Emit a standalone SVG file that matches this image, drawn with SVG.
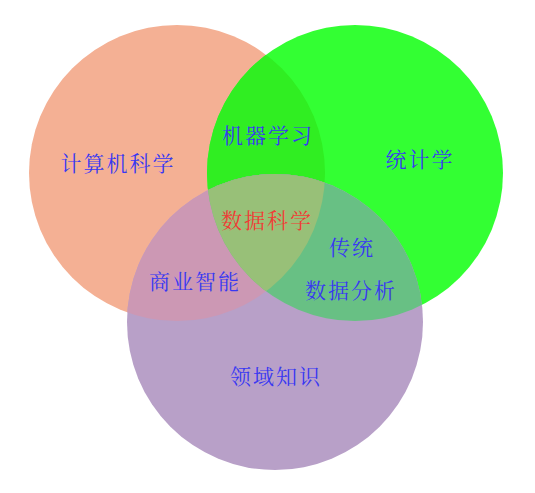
<svg xmlns="http://www.w3.org/2000/svg" width="535" height="493" viewBox="0 0 535 493">
<defs>
<clipPath id="cL"><circle cx="177" cy="173" r="148"/></clipPath>
<clipPath id="cG"><circle cx="355" cy="173" r="148"/></clipPath>
</defs>
<style>
text{font-family:"Noto Serif CJK SC","Noto Sans CJK SC",serif;font-size:21px;text-anchor:middle;dominant-baseline:central;letter-spacing:2px}
.b{fill:#3838f2}
.r{fill:#f03c36}
</style>
<rect width="535" height="493" fill="#ffffff"/>
<g id="circle-cs"><circle cx="177" cy="173" r="148" fill="#f4b094"/></g>
<g id="circle-stat"><circle cx="355" cy="173" r="148" fill="#33ff33"/>
<circle cx="355" cy="173" r="148" fill="#30ee22" clip-path="url(#cL)"/></g>
<g id="circle-domain"><circle cx="275" cy="322" r="148" fill="#b8a0c8"/>
<circle cx="275" cy="322" r="148" fill="#cc98b4" clip-path="url(#cL)"/>
<circle cx="275" cy="322" r="148" fill="#68c084" clip-path="url(#cG)"/>
<g clip-path="url(#cL)"><circle cx="275" cy="322" r="148" fill="#98c078" clip-path="url(#cG)"/></g></g>
<g id="labels">
<text class="b" x="118" y="162">计算机科学</text>
<text class="b" x="268" y="134">机器学习</text>
<text class="b" x="420" y="158">统计学</text>
<text class="r" x="267" y="219">数据科学</text>
<text class="b" x="352" y="246">传统</text>
<text class="b" x="351" y="289">数据分析</text>
<text class="b" x="195" y="280">商业智能</text>
<text class="b" x="276" y="375">领域知识</text>
</g>
</svg>
